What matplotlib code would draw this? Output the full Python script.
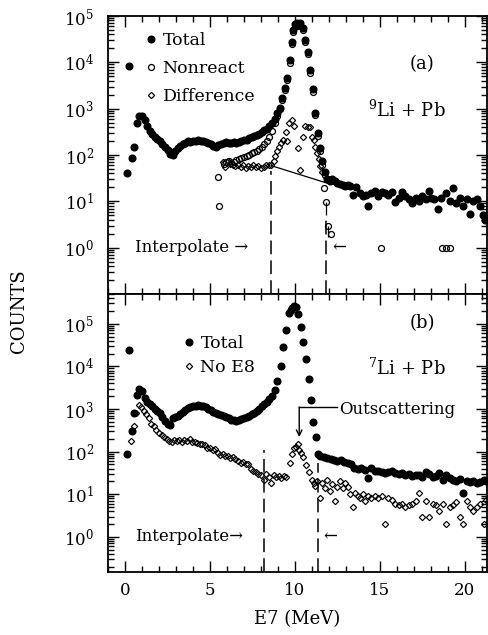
import matplotlib
matplotlib.use("Agg")
import matplotlib.pyplot as plt
from matplotlib.ticker import LogLocator, NullFormatter, MultipleLocator

plt.rcParams['font.family'] = ['DejaVu Serif', 'DejaVu Sans']
plt.rcParams['mathtext.fontset'] = 'dejavuserif'
plt.rcParams['font.size'] = 12

# ---------------- (a) 9Li + Pb ----------------
a_total_e = [0.1, 0.25, 0.4, 0.55, 0.7, 0.85, 1.0, 1.15, 1.3, 1.45, 1.6, 1.75, 1.9, 2.05,
             2.2, 2.35, 2.5, 2.65, 2.8, 2.95, 3.1, 3.25, 3.4, 3.55, 3.7, 3.85, 4.0, 4.15,
             4.3, 4.45, 4.6, 4.75, 4.9, 5.05, 5.2, 5.35, 5.5, 5.65, 5.8, 5.95, 6.1, 6.25,
             6.4, 6.55, 6.7, 6.85, 7.0, 7.15, 7.3, 7.45, 7.6, 7.75, 7.9, 8.05, 8.2, 8.35,
             8.5, 8.65, 8.8, 8.95, 9.1, 9.25, 9.4, 9.55, 9.7, 9.8, 9.9, 10.0, 10.1, 10.2,
             10.3, 10.45, 10.6, 10.75, 10.9, 11.05, 11.2, 11.35, 11.5, 11.6, 11.75, 11.9,
             12.05, 12.2, 12.35, 12.5, 12.65, 12.8, 12.95, 13.1, 13.25, 13.4, 13.6, 13.8,
             14.0, 14.2, 14.3, 14.5, 14.7, 14.9, 15.1, 15.3, 15.5, 15.7, 15.9, 16.1, 16.3,
             16.5, 16.7, 16.9, 17.1, 17.3, 17.5, 17.7, 17.9, 18.0, 18.2, 18.4, 18.6, 18.9,
             19.1, 19.3, 19.5, 19.7, 19.9, 20.1, 20.3, 20.5, 20.7, 20.9, 21.05, 21.2]
a_total_c = [40, 8500, 85, 150, 500, 700, 680, 560, 420, 330, 290, 250, 220, 200,
             175, 150, 130, 105, 100, 125, 140, 155, 170, 185, 200, 195, 205, 200,
             210, 200, 205, 195, 185, 170, 160, 150, 165, 175, 180, 190, 185, 180,
             190, 185, 190, 200, 210, 215, 230, 240, 255, 270, 290, 310, 340, 370,
             420, 480, 600, 800, 1050, 1700, 2800, 4500, 11000, 28000, 50000, 68000, 72000, 65000,
             70000, 55000, 30000, 17000, 6900, 2600, 810, 300, 145, 75, 42, 30,
             28, 30, 27, 25, 24, 22, 21, 23, 21, 14, 20, 15,
             13, 14, 8, 15, 17, 13, 16, 15, 14, 16, 9.5, 12, 16,
             13, 11, 9, 12, 10, 13, 11, 16.5, 12, 11, 6.7, 12, 15.5,
             10, 19, 9, 12, 8, 11, 5.2, 10, 11, 8, 5, 4]

a_nonreact_e = [5.5, 5.55, 5.8, 5.95, 6.1, 6.25, 6.4, 6.55, 6.7, 6.85, 7.0, 7.15, 7.3,
                7.45, 7.6, 7.75, 7.9, 8.05, 8.2, 8.35, 8.5, 8.65, 8.8, 8.95, 9.1, 9.25,
                9.4, 9.55, 9.7, 9.8, 9.9, 10.0, 10.1, 10.2, 10.3, 10.45, 10.6, 10.75,
                10.9, 11.05, 11.2, 11.35, 11.5, 11.6, 11.7, 11.85, 11.92, 12.1, 15.05,
                18.65, 18.9, 19.15]
a_nonreact_c = [33, 8, 63, 70, 75, 68, 72, 78, 80, 85, 90, 95, 100,
                110, 118, 125, 135, 150, 170, 200, 250, 330, 480, 700, 1000, 1550,
                2500, 4100, 9500, 25000, 46000, 63000, 67000, 60000, 64000, 49000, 27000, 15000,
                6000, 2300, 720, 260, 125, 60, 19.5, 9.5, 3, 1.95, 1,
                1, 1, 1]

a_diff_e = [5.75, 5.9, 6.05, 6.2, 6.35, 6.5, 6.65, 6.8, 6.95, 7.1, 7.25, 7.4, 7.55, 7.7,
            7.85, 8.0, 8.15, 8.3, 8.45, 8.6, 8.75, 8.85, 8.95, 9.05, 9.15, 9.3, 9.45,
            9.55, 9.65, 9.8, 9.95, 10.15, 10.3, 10.45, 10.6, 10.75, 10.9, 11.0, 11.1,
            11.2, 11.3, 11.4, 11.5, 11.6, 11.75]
a_diff_c = [70, 55, 75, 65, 60, 58, 62, 55, 60, 52, 58, 55, 60, 54,
            58, 52, 56, 60, 62, 60, 75, 95, 120, 150, 180, 210, 320,
            200, 500, 580, 420, 140, 48, 250, 420, 400, 410, 250, 210,
            150, 110, 80, 58, 42, 35]

# interpolation between the gate edges in (a)
a_interp_e = [8.6, 11.85]
a_interp_c = [59, 25]

# ---------------- (b) 7Li + Pb ----------------
b_total_e = [0.1, 0.25, 0.4, 0.55, 0.7, 0.85, 1.0, 1.15, 1.3, 1.45, 1.6, 1.75, 1.9, 2.05,
             2.2, 2.35, 2.5, 2.65, 2.8, 2.95, 3.1, 3.25, 3.4, 3.55, 3.7, 3.85, 4.0, 4.15,
             4.3, 4.45, 4.6, 4.75, 4.9, 5.05, 5.2, 5.35, 5.5, 5.65, 5.8, 5.95, 6.1, 6.25,
             6.4, 6.55, 6.7, 6.85, 7.0, 7.15, 7.3, 7.45, 7.6, 7.75, 7.9, 8.05, 8.2, 8.35,
             8.5, 8.65, 8.8, 8.97, 9.15, 9.3, 9.47, 9.65, 9.75, 9.85, 9.95, 10.05, 10.2,
             10.33, 10.5, 10.65, 10.8, 10.92, 11.08, 11.24, 11.35, 11.5, 11.7, 11.9, 12.1,
             12.3, 12.5, 12.7, 12.9, 13.1, 13.3, 13.5, 13.7, 13.9, 14.1, 14.3, 14.5, 14.7,
             14.9, 15.1, 15.3, 15.5, 15.7, 15.9, 16.1, 16.3, 16.5, 16.7, 16.9, 17.1, 17.3,
             17.5, 17.7, 17.9, 18.1, 18.3, 18.5, 18.7, 18.9, 19.1, 19.3, 19.5, 19.7, 19.9,
             20.1, 20.3, 20.5, 20.7, 20.9, 21.1, 21.25]
b_total_c = [90, 24000, 300, 800, 2100, 3000, 2600, 1800, 1500, 1300, 1150, 1000, 900, 800,
             650, 530, 450, 420, 600, 650, 700, 780, 850, 950, 1050, 1100, 1150, 1200,
             1230, 1200, 1150, 1100, 1000, 950, 870, 800, 780, 720, 680, 640, 600, 560,
             540, 530, 560, 580, 620, 660, 700, 760, 820, 900, 1000, 1150, 1300, 1450,
             1700, 2000, 2800, 4600, 10000, 29000, 72000, 178000, 215000, 240000, 255000, 250000, 170000,
             84000, 38000, 14700, 5000, 1620, 490, 215, 88, 80, 74, 70, 68,
             65, 62, 63, 58, 55, 50, 42, 40, 42, 38, 24, 41, 36,
             35, 34, 32, 33, 36, 31, 30, 32, 29, 30, 27, 28, 29,
             26, 33, 30, 25, 27, 31, 22, 28, 24, 22, 21, 23, 11,
             21, 19, 20, 18, 19, 22, 21]

b_noe8_e = [0.35, 0.5, 0.65, 0.8, 0.95, 1.1, 1.25, 1.4, 1.55, 1.7, 1.85, 2.0, 2.15, 2.3,
            2.45, 2.6, 2.75, 2.9, 3.05, 3.2, 3.35, 3.5, 3.65, 3.8, 3.95, 4.1, 4.25, 4.4,
            4.55, 4.7, 4.85, 5.0, 5.15, 5.3, 5.45, 5.6, 5.75, 5.9, 6.05, 6.2, 6.35, 6.5,
            6.65, 6.8, 6.95, 7.1, 7.25, 7.4, 7.55, 7.7, 7.85, 8.0, 8.15, 8.3, 8.45, 8.6,
            8.75, 8.9, 9.05, 9.2, 9.35, 9.5, 9.7, 9.85, 9.95, 10.05, 10.15, 10.25, 10.35,
            10.5, 10.65, 10.85, 11.0, 11.1, 11.2, 11.3, 11.45, 11.6, 11.75, 11.9, 12.05,
            12.2, 12.35, 12.5, 12.65, 12.8, 12.95, 13.1, 13.25, 13.4, 13.55, 13.7, 13.85,
            14.0, 14.15, 14.3, 14.5, 14.7, 14.9, 15.1, 15.3, 15.5, 15.7, 15.9, 16.1, 16.3,
            16.5, 16.7, 16.9, 17.1, 17.3, 17.5, 17.7, 17.9, 18.1, 18.3, 18.5, 18.7, 18.9,
            19.1, 19.3, 19.5, 19.7, 19.9, 20.1, 20.3, 20.5, 20.7, 20.9, 21.1, 21.25]
b_noe8_c = [180, 400, 800, 1250, 1100, 900, 750, 600, 450, 400, 330, 280, 250, 220,
            200, 175, 165, 185, 175, 190, 170, 185, 175, 200, 165, 170, 160, 155,
            150, 140, 125, 120, 110, 115, 95, 85, 90, 80, 78, 70, 75, 68,
            60, 55, 58, 50, 52, 40, 35, 33, 30, 28, 22, 30, 25, 18,
            28, 25, 27, 24, 27, 25, 55, 90, 120, 130, 155, 110, 95,
            76, 48, 33, 22, 18, 16, 20, 8, 18, 14, 22, 12,
            17, 7, 15, 20, 14, 18, 15, 10, 5, 11, 9, 8,
            10, 7, 9, 8, 9, 8, 9, 2, 8, 7.5, 6, 5.5, 6,
            5, 5.5, 6, 7, 11, 3, 7, 3, 6, 5.5, 4, 6, 2,
            5, 5.5, 6.5, 3, 2, 7, 5, 4, 5, 6, 2, 7.5]

decade_ticks = [1, 10, 100, 1e3, 1e4, 1e5]
decade_labels = [r'$10^{0}$', r'$10^{1}$', r'$10^{2}$', r'$10^{3}$', r'$10^{4}$', r'$10^{5}$']

fig = plt.figure(figsize=(4.89, 6.35), dpi=100)
ax_a = fig.add_axes([0.2209, 0.5370, 0.7750, 0.4378])
ax_b = fig.add_axes([0.2209, 0.0992, 0.7750, 0.4378], sharex=ax_a)

total_kw = dict(ls='none', marker='o', ms=4.8, color='black', mec='black')
open_kw = dict(ls='none', marker='o', ms=4.3, mfc='none', mec='black', mew=0.9)
diam_kw = dict(ls='none', marker='D', ms=3.2, mfc='none', mec='black', mew=0.85)

for ax in (ax_a, ax_b):
    ax.set_yscale('log')
    ax.set_xlim(-1.0, 21.3)
    ax.xaxis.set_major_locator(MultipleLocator(5))
    ax.xaxis.set_minor_locator(MultipleLocator(1))
    ax.set_yticks(decade_ticks)
    ax.set_yticklabels(decade_labels)
    ax.yaxis.set_minor_locator(LogLocator(base=10, subs=range(2, 10), numticks=20))
    ax.yaxis.set_minor_formatter(NullFormatter())
    ax.tick_params(which='both', direction='in', top=True, right=True, width=1.0)
    ax.tick_params(which='major', length=8, labelsize=12)
    ax.tick_params(which='minor', length=4)
    ax.tick_params(axis='y', pad=10)
    ax.tick_params(axis='x', pad=7)
    for s in ax.spines.values():
        s.set_linewidth(1.3)

# panel (a)
ax_a.set_ylim(0.1, 1e5)
ax_a.plot(a_total_e, a_total_c, label='Total', **total_kw)
ax_a.plot(a_nonreact_e, a_nonreact_c, label='Nonreact', **open_kw)
ax_a.plot(a_diff_e, a_diff_c, label='Difference', **diam_kw)
ax_a.errorbar([11.85, 11.92], [9.5, 3], yerr=[[4.5, 1.3], [0, 0]], fmt='none',
              ecolor='black', elinewidth=0.9, capsize=0)
ax_a.plot(a_interp_e, a_interp_c, color='black', lw=0.9)
ax_a.plot([8.6, 8.6], [0.1, 45], color='black', lw=1.1, dashes=(9, 4))
ax_a.plot([11.85, 11.85], [0.1, 4], color='black', lw=1.1, dashes=(9, 4))
ax_a.text(0.6, 1.0, 'Interpolate \u2192', ha='left', va='center', fontsize=12)
ax_a.text(12.2, 1.0, '\u2190', ha='left', va='center', fontsize=12)
ax_a.text(17.47, 9000, '(a)', ha='center', va='center', fontsize=13)
ax_a.text(16.56, 950, r'$^{9}$Li + Pb', ha='center', va='center', fontsize=13)
ax_a.tick_params(axis='x', labelbottom=False)
leg_a = ax_a.legend(loc='upper left', bbox_to_anchor=(0.105, 0.942), frameon=False,
                    handlelength=0.4, handletextpad=0.45, labelspacing=0.62,
                    borderpad=0, borderaxespad=0, fontsize=12.5)

# panel (b)
ax_b.set_ylim(0.15, 5e5)
ax_b.plot(b_total_e, b_total_c, label='Total', **total_kw)
ax_b.plot(b_noe8_e, b_noe8_c, label='No E8', **diam_kw)
ax_b.plot([8.18, 8.18], [0.15, 110], color='black', lw=1.1, dashes=(9, 4))
ax_b.plot([11.37, 11.37], [0.15, 55], color='black', lw=1.1, dashes=(9, 4))
ax_b.text(0.6, 1.0, 'Interpolate\u2192', ha='left', va='center', fontsize=12)
ax_b.text(11.7, 1.0, '\u2190', ha='left', va='center', fontsize=12)
ax_b.text(17.47, 1.05e5, '(b)', ha='center', va='center', fontsize=13)
ax_b.text(16.56, 9100, r'$^{7}$Li + Pb', ha='center', va='center', fontsize=13)
ax_b.plot([12.45, 10.25], [1120, 1120], color='black', lw=1.0)
ax_b.annotate('', xy=(10.25, 220), xytext=(10.25, 1120),
              arrowprops=dict(arrowstyle='->', color='black', lw=1.0,
                              shrinkA=0, shrinkB=0, mutation_scale=10))
ax_b.text(12.6, 960, 'Outscattering', ha='left', va='center', fontsize=12)
leg_b = ax_b.legend(loc='upper left', bbox_to_anchor=(0.205, 0.853), frameon=False,
                    handlelength=0.4, handletextpad=0.45, labelspacing=0.42,
                    borderpad=0, borderaxespad=0, fontsize=12.5)

ax_b.set_xlabel('E7 (MeV)', fontsize=13, labelpad=8)
fig.text(0.038, 0.51, 'COUNTS', rotation=90, ha='center', va='center', fontsize=13)

fig.savefig('out.png', dpi=100)
